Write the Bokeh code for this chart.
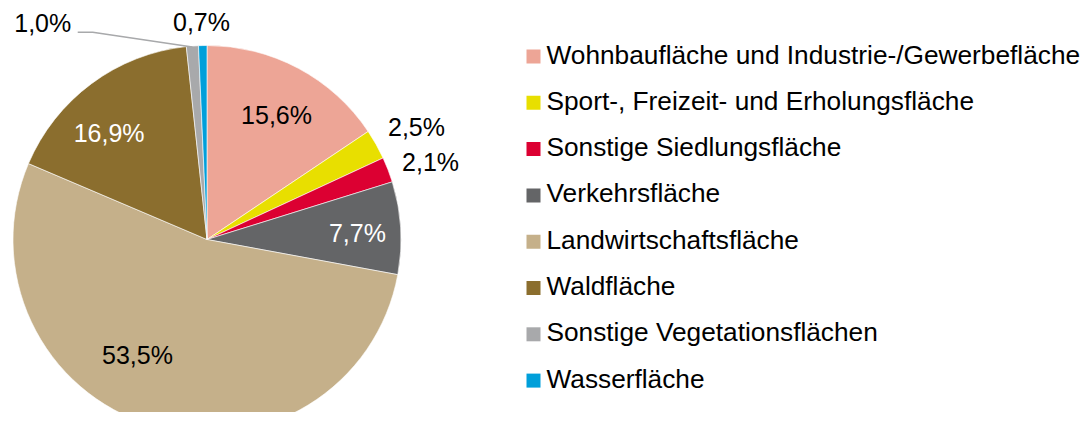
import math
from bokeh.plotting import figure
from bokeh.models import Range1d, ColumnDataSource
from bokeh.core.properties import value
from bokeh.embed import file_html
from bokeh.resources import INLINE

# ---- data ----
categories = [
    "Wohnbaufläche und Industrie-/Gewerbefläche",
    "Sport-, Freizeit- und Erholungsfläche",
    "Sonstige Siedlungsfläche",
    "Verkehrsfläche",
    "Landwirtschaftsfläche",
    "Waldfläche",
    "Sonstige Vegetationsflächen",
    "Wasserfläche",
]
shares = [15.6, 2.5, 2.1, 7.7, 53.5, 16.9, 1.0, 0.7]
share_labels = ["15,6%", "2,5%", "2,1%", "7,7%", "53,5%", "16,9%", "1,0%", "0,7%"]

# ---- styles ----
colors = ["#EDA596", "#E8DF00", "#DC0032", "#646567", "#C5B08A", "#8B6E2E", "#A8A9AB", "#009FDA"]
label_colors = ["#000000", "#000000", "#000000", "#FFFFFF", "#000000", "#FFFFFF", "#000000", "#000000"]
label_rfrac = [0.735, 1.227, 1.219, 0.776, 0.693, 0.745, 1.40, 1.12]
label_ashift = [1.1, 1.0, 2.0, 1.1, 14.4, -6.1, -32.9, -0.2]
FONT = "Liberation Sans"
LABEL_FS = "25px"
LEGEND_FS = "26.25px"

W, H = 1083, 412
CX, CY, R = 206.5, 173.0, 194.0

p = figure(width=W, height=H, output_backend="svg", toolbar_location=None,
           x_range=Range1d(0, W), y_range=Range1d(0, H), min_border=0)
p.axis.visible = False
p.grid.visible = False
p.outline_line_color = None
p.background_fill_color = "white"
p.border_fill_color = "white"

total = sum(shares)
starts, ends, mids = [], [], []
cum = 0.0
for s in shares:
    a0 = math.pi / 2 - 2 * math.pi * cum / total
    cum += s
    a1 = math.pi / 2 - 2 * math.pi * cum / total
    starts.append(a0)
    ends.append(a1)
    mids.append((a0 + a1) / 2)

src = ColumnDataSource(dict(x=[CX] * len(shares), y=[CY] * len(shares),
                            start=starts, end=ends, color=colors))
p.wedge(x="x", y="y", radius=R, start_angle="start", end_angle="end",
        direction="clock", fill_color="color", line_color="white", line_width=0.6,
        source=src)

# labels
lx, ly = [], []
for m, rf, sh in zip(mids, label_rfrac, label_ashift):
    a = m - math.radians(sh)
    lx.append(CX + rf * R * math.cos(a))
    ly.append(CY + rf * R * math.sin(a))
lsrc = ColumnDataSource(dict(x=lx, y=ly, t=share_labels, c=label_colors))
p.text(x="x", y="y", text="t", text_color="c", source=lsrc,
       text_font=value(FONT), text_font_size=LABEL_FS,
       text_align="center", text_baseline="middle")

# leader line for Sonstige Vegetationsflächen (1,0%)
i = 6
ex = CX + R * math.cos(mids[i])
ey = CY + R * math.sin(mids[i])
p.line(x=[lx[i] + 35, lx[i] + 50, ex], y=[ly[i] - 9, ly[i] - 9, ey - 1],
       line_color="#A8A9AB", line_width=1.5)

# legend
leg_x_sq, leg_x_txt, leg_top, leg_step = 533, 546, 356, 46.3
ys = [leg_top - k * leg_step for k in range(len(categories))]
p.scatter(x=[leg_x_sq] * len(categories), y=ys, marker="square", size=14,
          fill_color=colors, line_color=None)
p.text(x=[leg_x_txt] * len(categories), y=[v + 2 for v in ys], text=categories,
       text_font=value(FONT), text_font_size=LEGEND_FS, text_color="#000000",
       text_align="left", text_baseline="middle")

open("out.html", "w").write(file_html(p, INLINE))
